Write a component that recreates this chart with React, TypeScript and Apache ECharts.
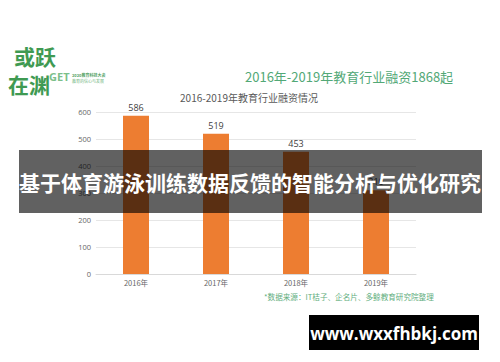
import React, { useEffect, useRef } from "react";
import * as echarts from "echarts";

const categories = ["2016年", "2017年", "2018年", "2019年"];
const values = [586, 519, 453, 310];
const yTicks = [0, 100, 200, 300, 400, 500, 600];

const headline = "2016年-2019年教育行业融资1868起";
const chartTitle = "2016-2019年教育行业融资情况";
const banner = "基于体育游泳训练数据反馈的智能分析与优化研究";
const source = "*数据来源：IT桔子、企名片、多鲸教育研究院整理";
const site = "www.wxxfhbkj.com";

const CJK = '"Noto Sans CJK SC", "Noto Sans", sans-serif';
const LAT = '"Open Sans", "Noto Sans CJK SC", sans-serif';

export default function App() {
  const ref = useRef<HTMLDivElement>(null);
  useEffect(() => {
    document.body.style.margin = "0";
    const chart = echarts.init(ref.current!, undefined, { renderer: "svg" });
    chart.setOption({
      animation: false,
      backgroundColor: "#ffffff",
      grid: { left: 96, right: 84, top: 112, bottom: 88 },
      xAxis: {
        type: "category",
        data: categories,
        axisLine: { show: true, lineStyle: { color: "#d9d9d9", width: 1 } },
        axisTick: { show: false },
        axisLabel: { color: "#666666", fontSize: 7.5, fontFamily: CJK, margin: 5 },
      },
      yAxis: {
        type: "value",
        min: yTicks[0],
        max: yTicks[yTicks.length - 1],
        interval: 100,
        axisLine: { show: false },
        axisTick: { show: false },
        splitLine: { lineStyle: { color: "#e6e6e6", width: 1 } },
        axisLabel: { color: "#666666", fontSize: 7.5, fontFamily: LAT, margin: 5 },
      },
      series: [
        {
          type: "bar",
          data: values,
          barWidth: 26,
          itemStyle: { color: "#ED7D31" },
          label: {
            show: true,
            position: "top",
            distance: 4,
            color: "#404040",
            fontSize: 9,
            fontFamily: LAT,
          },
        },
      ],
      graphic: [
        // logo
        {
          type: "text",
          left: 14,
          top: 45,
          z: 10,
          style: {
            text: "或跃",
            fontSize: 21,
            fontWeight: "bold",
            fill: "#3f9a52",
            fontFamily: CJK,
          },
        },
        {
          type: "text",
          left: 8,
          top: 73,
          z: 10,
          style: {
            text: "在渊",
            fontSize: 21,
            fontWeight: "bold",
            fill: "#3f9a52",
            fontFamily: CJK,
          },
        },
        {
          type: "text",
          left: 49,
          top: 71,
          z: 10,
          style: {
            text: "GET",
            fontSize: 11,
            fontWeight: "bold",
            fill: "#7bbf8a",
            fontFamily: LAT,
          },
        },
        {
          type: "text",
          left: 72,
          top: 72.5,
          z: 10,
          style: {
            text: "2020教育科技大会",
            fontSize: 4,
            fontWeight: "bold",
            fill: "#4fa062",
            fontFamily: CJK,
          },
        },
        {
          type: "text",
          left: 72,
          top: 78.5,
          z: 10,
          style: {
            text: "教育的信心与发展",
            fontSize: 4,
            fill: "#6fb57e",
            fontFamily: CJK,
          },
        },
        // headline
        {
          type: "text",
          left: 245,
          top: 70,
          z: 10,
          style: {
            text: headline,
            fontSize: 13,
            fill: "#52a876",
            fontFamily: CJK,
          },
        },
        // chart title
        {
          type: "text",
          x: 249,
          y: 97,
          z: 10,
          style: {
            text: chartTitle,
            fontSize: 10,
            fill: "#595959",
            fontFamily: CJK,
            align: "center",
            verticalAlign: "middle",
          },
        },
        // source
        {
          type: "text",
          left: 264,
          top: 293,
          z: 10,
          style: {
            text: source,
            fontSize: 7.6,
            fill: "#5fae7e",
            fontFamily: CJK,
          },
        },
        // banner
        {
          type: "rect",
          z: 100,
          shape: { x: 19, y: 150, width: 463, height: 63 },
          style: { fill: "rgba(0,0,0,0.62)" },
        },
        {
          type: "text",
          x: 250,
          y: 182,
          z: 101,
          style: {
            text: banner,
            fontSize: 21,
            fontWeight: "bold",
            fill: "#ffffff",
            fontFamily: CJK,
            align: "center",
            verticalAlign: "middle",
          },
        },
        // site box
        {
          type: "rect",
          z: 100,
          shape: { x: 309, y: 315, width: 170, height: 35 },
          style: { fill: "#000000" },
        },
        {
          type: "text",
          x: 394,
          y: 333,
          z: 101,
          style: {
            text: site,
            fontSize: 17,
            fontWeight: "bold",
            fill: "#ffffff",
            fontFamily: LAT,
            align: "center",
            verticalAlign: "middle",
          },
        },
      ],
    });
    return () => chart.dispose();
  }, []);
  return (
    <div
      ref={ref}
      style={{ position: "fixed", left: 0, top: 0, width: 500, height: 362 }}
    />
  );
}
